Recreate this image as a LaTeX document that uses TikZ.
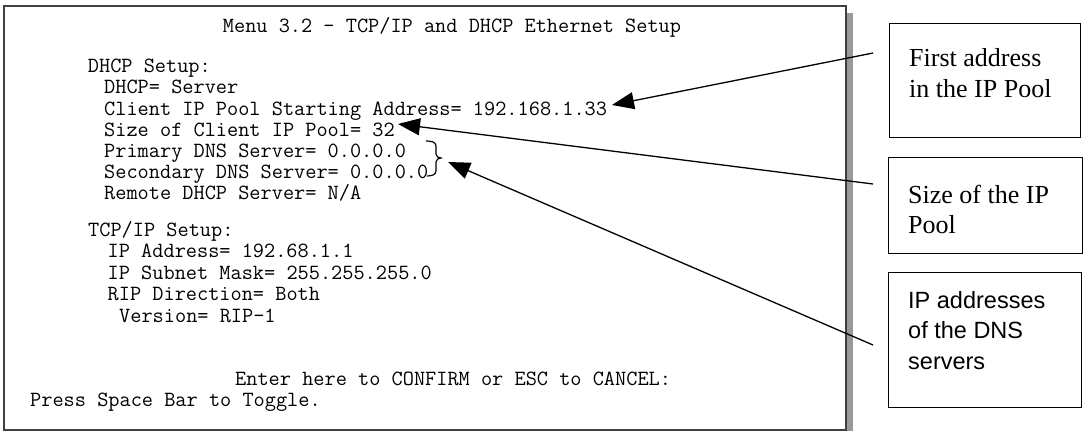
\documentclass[tikz,border=0pt]{standalone}
\usepackage{fontspec}
\setmainfont{Liberation Serif}
\setsansfont{Liberation Sans}
\usetikzlibrary{arrows.meta}

\begin{document}
\begin{tikzpicture}[x=1pt,y=-1pt,
  term/.style={anchor=base west,inner sep=0pt,font=\ttfamily\fontsize{21.7}{21}\selectfont},
  notebox/.style={draw,line width=1.4pt,anchor=north west,inner sep=0pt,minimum width=#1},
  serifnote/.style={anchor=base west,inner sep=0pt,font=\rmfamily\fontsize{26}{31}\selectfont},
  sansnote/.style={anchor=base west,inner sep=0pt,font=\sffamily\fontsize{23.5}{30}\selectfont},
  callout/.style={line width=1.3pt,-{Triangle[length=22pt,width=17pt]}}]
 \useasboundingbox (0,0) rectangle (1085,431);
 \fill[black!40] (847,13) rectangle (853,431);
 \draw[black!75,line width=2pt] (4,6) rectangle (846,430);

 \node[term] (menu) at (222.7,32) {Menu 3.2 - TCP/IP and DHCP Ethernet Setup};
 \node[term] (dhcpsetup) at (87.7,72.5) {DHCP Setup:};
 \node[term] (dhcpmode) at (104,93.7) {DHCP= Server};
 \node[term] (poolstart) at (104,115) {Client IP Pool Starting Address= 192.168.1.33};
 \node[term] (poolsize) at (104,136.2) {Size of Client IP Pool= 32};
 \node[term] (dnsone) at (104,157.4) {Primary DNS Server= 0.0.0.0};
 \node[term] (dnstwo) at (104,178.6) {Secondary DNS Server= 0.0.0.0};
 \node[term] (remotedhcp) at (104,199.8) {Remote DHCP Server= N/A};
 \node[term] (tcpsetup) at (88,236) {TCP/IP Setup:};
 \node[term] (ipaddr) at (107.5,257.5) {IP Address= 192.68.1.1};
 \node[term] (subnet) at (107.5,279) {IP Subnet Mask= 255.255.255.0};
 \node[term] (ripdir) at (107.5,300.5) {RIP Direction= Both};
 \node[term] (ripver) at (119,322) {Version= RIP-1};
 \node[term] (confirm) at (235,385) {Enter here to CONFIRM or ESC to CANCEL:};
 \node[term] (toggle) at (30,406.5) {Press Space Bar to Toggle.};

 \draw[line width=1.2pt] (426,141) to[out=0,in=90] (436,146) -- (436,154)
   to[out=-90,in=180] (441,158) to[out=180,in=90] (436,162) -- (436,171)
   to[out=-90,in=0] (427,176);

 \node[notebox=191pt,minimum height=114pt] (firstbox) at (889,23) {};
 \node[notebox=194pt,minimum height=96pt] (sizebox) at (888,157) {};
 \node[notebox=193pt,minimum height=135pt] (dnsbox) at (888,272) {};

 \node[serifnote] (firstl1) at (909,66) {First address};
 \node[serifnote] (firstl2) at (909,97) {in the IP Pool};
 \node[serifnote] (sizel1) at (908,203) {Size of the IP};
 \node[serifnote] (sizel2) at (908,233) {Pool};
 \node[sansnote] (dnsl1) at (908,308) {IP addresses};
 \node[sansnote] (dnsl2) at (908,338.5) {of the DNS};
 \node[sansnote] (dnsl3) at (908,369) {servers};

 \coordinate (firsttail) at (873,53);
 \coordinate (sizetail) at (873,184);
 \coordinate (dnstail) at (873,345);
 \coordinate (firsttip) at (612,105);
 \coordinate (sizetip) at (398,124);
 \coordinate (dnstip) at (448,162);
 \draw[callout] (firsttail) -- (firsttip);
 \draw[callout] (sizetail) -- (sizetip);
 \draw[callout] (dnstail) -- (dnstip);
\end{tikzpicture}
\end{document}
